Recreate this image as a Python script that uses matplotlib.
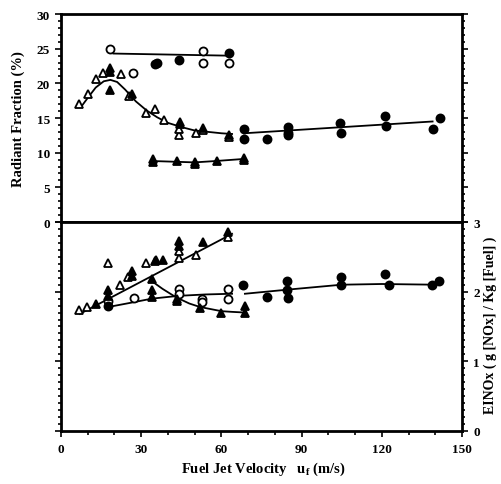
import matplotlib
matplotlib.use("Agg")
import matplotlib.pyplot as plt
from matplotlib.ticker import MultipleLocator

# ---------------- data: top panel (Radiant Fraction, %) ----------------
rf_open_circ_x = [18.3, 27.0, 53.2, 53.2, 62.9]
rf_open_circ_y = [24.9, 21.5, 24.6, 22.9, 23.0]
rf_fill_circ_x = [35.2, 35.8, 44.3, 63.0, 68.6, 68.6, 76.9, 85.0, 85.0, 85.0,
                  104.4, 104.6, 121.2, 121.7, 139.0, 141.8]
rf_fill_circ_y = [22.8, 22.9, 23.4, 24.4, 13.4, 12.0, 12.0, 13.7, 12.9, 12.6,
                  14.3, 12.9, 15.3, 13.8, 13.4, 15.0]
rf_open_tri_x = [6.7, 10.0, 13.0, 15.8, 22.4, 25.4, 31.7, 35.3, 38.4, 44.2, 44.2, 50.5, 53.2, 63.0]
rf_open_tri_y = [17.0, 18.5, 20.6, 21.5, 21.4, 18.2, 15.7, 16.3, 14.7, 12.6, 13.4, 12.9, 13.2, 12.3]
rf_fill_tri_x = [18.3, 18.3, 18.3, 26.7, 44.4, 44.4, 53.2, 63.0]
rf_fill_tri_y = [22.2, 21.6, 19.0, 18.5, 14.1, 14.4, 13.5, 12.6]
rf_fill_tri2_x = [34.3, 34.3, 43.3, 50.3, 50.3, 58.3, 68.3, 68.3]
rf_fill_tri2_y = [9.1, 8.7, 8.8, 8.4, 8.7, 8.8, 9.3, 8.9]

# fitted curves
rf_fit_circ_x = [19.6, 62.0]
rf_fit_circ_y = [24.3, 24.0]
rf_fit_tri_x = [7.5, 10, 13, 16, 18.5, 21, 24, 28, 32, 36, 40, 45, 50, 55, 60, 64]
rf_fit_tri_y = [16.6, 17.9, 19.4, 20.3, 20.5, 20.2, 19.1, 17.4, 16.1, 15.1, 14.3, 13.7, 13.2, 13.0, 12.8, 12.7]
rf_fit_fcirc_x = [68.5, 139.0]
rf_fit_fcirc_y = [12.8, 14.5]
rf_fit_tri2_x = [34.0, 42, 50, 58, 68.5]
rf_fit_tri2_y = [8.8, 8.7, 8.6, 8.8, 9.1]

# ---------------- data: bottom panel (EINOx) ----------------
ei_open_tri_x = [6.7, 9.9, 17.7, 22.0, 25.2, 31.7, 35.2, 44.1, 44.1, 50.4, 62.6]
ei_open_tri_y = [1.73, 1.78, 2.41, 2.10, 2.21, 2.41, 2.44, 2.49, 2.59, 2.53, 2.78]
ei_fill_tri_x = [13.0, 17.7, 17.7, 26.4, 26.4, 35.7, 38.3, 44.1, 44.1, 53.2, 62.6]
ei_fill_tri_y = [1.82, 2.02, 1.94, 2.30, 2.23, 2.45, 2.45, 2.73, 2.66, 2.71, 2.85]
ei_fill_tri2_x = [33.9, 34.0, 34.0, 43.3, 43.3, 52.0, 60.0, 69.0, 69.0]
ei_fill_tri2_y = [2.18, 2.02, 1.93, 1.90, 1.87, 1.76, 1.70, 1.70, 1.79]
ei_open_circ_x = [17.7, 27.4, 44.1, 44.1, 52.8, 52.8, 62.6, 62.6]
ei_open_circ_y = [1.86, 1.91, 2.04, 1.97, 1.90, 1.85, 2.04, 1.90]
ei_fill_circ_x = [17.7, 68.2, 77.0, 84.4, 84.6, 84.8, 104.6, 104.6, 121.2, 122.8, 138.7, 141.5]
ei_fill_circ_y = [1.79, 2.09, 1.93, 2.16, 2.02, 1.91, 2.21, 2.09, 2.26, 2.10, 2.10, 2.16]

ei_fit_rise_x = [7.0, 64.0]
ei_fit_rise_y = [1.68, 2.83]
ei_fit_fall_x = [34.0, 38, 43, 48, 52, 56, 60, 64, 69]
ei_fit_fall_y = [2.15, 2.04, 1.92, 1.83, 1.78, 1.75, 1.72, 1.71, 1.70]
ei_fit_circ_x = [17.7, 26, 34, 44, 54, 64]
ei_fit_circ_y = [1.78, 1.84, 1.90, 1.94, 1.96, 1.97]
ei_fit_fcirc_x = [68.8, 85, 105, 120, 140]
ei_fit_fcirc_y = [1.97, 2.03, 2.10, 2.11, 2.10]

x_ticks = [0, 30, 60, 90, 120, 150]
rf_ticks = [0, 5, 10, 15, 20, 25, 30]
ei_ticks = [0, 1, 2, 3]

# ---------------- plotting ----------------
plt.rcParams['font.family'] = ['Liberation Serif', 'DejaVu Serif']
plt.rcParams['font.weight'] = 'bold'
plt.rcParams['mathtext.fontset'] = 'custom'
plt.rcParams['mathtext.bf'] = 'Liberation Serif:bold'
plt.rcParams['mathtext.rm'] = 'Liberation Serif:bold'

fig = plt.figure(figsize=(5.02, 4.85), dpi=100)
L, R = 0.1215, 0.9203
ax1 = fig.add_axes([L, 0.5402, R - L, 0.969 - 0.5402])
ax2 = fig.add_axes([L, 0.1093, R - L, 0.5402 - 0.1093], sharex=ax1)

k = 'black'
ms_t, ms_c = 6.2, 5.8
mew = 1.3
lw = 1.3

def opn(ax, x, y, m, ms):
    ax.plot(x, y, ls='none', marker=m, ms=ms, mfc='white', mec=k, mew=mew, zorder=3)

def fil(ax, x, y, m, ms):
    ax.plot(x, y, ls='none', marker=m, ms=ms, mfc=k, mec=k, mew=mew, zorder=4)

# top
ax1.plot(rf_fit_circ_x, rf_fit_circ_y, color=k, lw=lw)
ax1.plot(rf_fit_tri_x, rf_fit_tri_y, color=k, lw=lw)
ax1.plot(rf_fit_fcirc_x, rf_fit_fcirc_y, color=k, lw=lw)
ax1.plot(rf_fit_tri2_x, rf_fit_tri2_y, color=k, lw=lw)
opn(ax1, rf_open_circ_x, rf_open_circ_y, 'o', ms_c)
fil(ax1, rf_fill_circ_x, rf_fill_circ_y, 'o', ms_c)
opn(ax1, rf_open_tri_x, rf_open_tri_y, '^', ms_t)
fil(ax1, rf_fill_tri_x, rf_fill_tri_y, '^', ms_t)
fil(ax1, rf_fill_tri2_x, rf_fill_tri2_y, '^', ms_t)

# bottom
ax2.plot(ei_fit_rise_x, ei_fit_rise_y, color=k, lw=lw)
ax2.plot(ei_fit_fall_x, ei_fit_fall_y, color=k, lw=lw)
ax2.plot(ei_fit_circ_x, ei_fit_circ_y, color=k, lw=lw)
ax2.plot(ei_fit_fcirc_x, ei_fit_fcirc_y, color=k, lw=lw)
opn(ax2, ei_open_tri_x, ei_open_tri_y, '^', ms_t)
fil(ax2, ei_fill_tri_x, ei_fill_tri_y, '^', ms_t)
fil(ax2, ei_fill_tri2_x, ei_fill_tri2_y, '^', ms_t)
opn(ax2, ei_open_circ_x, ei_open_circ_y, 'o', ms_c)
fil(ax2, ei_fill_circ_x, ei_fill_circ_y, 'o', ms_c)

for ax in (ax1, ax2):
    for s in ax.spines.values():
        s.set_linewidth(2.0)
    ax.set_xlim(0, 150)

ax1.set_ylim(0, 30)
ax1.set_yticks(rf_ticks)
ax1.yaxis.set_minor_locator(MultipleLocator(1))
ax1.tick_params(axis='y', which='both', direction='out', left=True, right=True,
                labelleft=True, labelright=False, width=1.2)
ax1.tick_params(axis='y', which='major', length=4, pad=4, labelsize=9.5)
ax1.tick_params(axis='y', which='minor', length=2.5)
ax1.tick_params(axis='x', which='both', bottom=False, top=False, labelbottom=False)
for t in ax1.get_yticklabels():
    t.set_fontweight('bold')

ax2.set_ylim(0, 3)
ax2.set_yticks(ei_ticks)
ax2.yaxis.set_minor_locator(MultipleLocator(0.1))
ax2.tick_params(axis='y', which='both', direction='out', left=True, right=True,
                labelleft=False, labelright=True, width=1.2)
ax2.tick_params(axis='y', which='major', length=4, pad=4, labelsize=9.5)
ax2.tick_params(axis='y', which='minor', length=2.5)
ax2.set_xticks(x_ticks)
ax2.xaxis.set_minor_locator(MultipleLocator(10))
ax2.tick_params(axis='x', which='both', direction='out', bottom=True, top=False, width=1.2)
ax2.tick_params(axis='x', which='major', length=4, pad=5, labelsize=9.5)
ax2.tick_params(axis='x', which='minor', length=3)
for t in ax2.get_yticklabels() + ax2.get_xticklabels():
    t.set_fontweight('bold')

fig.text(0.036, 0.755, 'Radiant Fraction (%)', rotation=90, ha='center', va='center',
         fontsize=10.5, fontweight='bold')
fig.text(0.977, 0.33, 'EINOx ( g [NOx] / Kg [Fuel] )', rotation=90, ha='center', va='center',
         fontsize=10, fontweight='bold')
fig.text(0.525, 0.033, r'Fuel Jet Velocity   u$_\mathbf{f}$ (m/s)', ha='center', va='center',
         fontsize=10.5, fontweight='bold')

fig.savefig('out.png', dpi=100)
